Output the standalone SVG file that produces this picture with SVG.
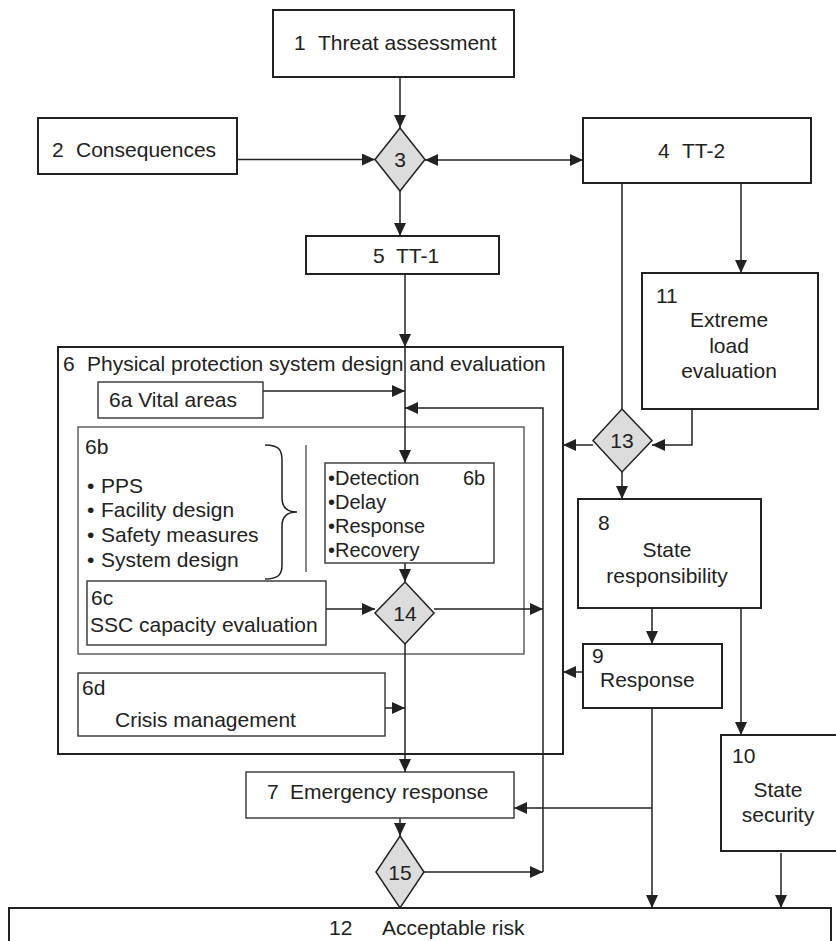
<svg xmlns="http://www.w3.org/2000/svg" width="836" height="941" viewBox="0 0 836 941">
<style>
text{font-family:"Liberation Sans",Arial,sans-serif;font-size:21px;fill:#222}
.sm{font-size:20px}
.box{fill:#fff;stroke:#222;stroke-width:2}
.thin{fill:#fff;stroke:#333;stroke-width:1.4}
.grey{fill:none;stroke:#555;stroke-width:1.4}
.dia{fill:#dcdcdc;stroke:#222;stroke-width:1.5}
.c{fill:none;stroke:#222;stroke-width:1.5}
.mid{text-anchor:middle}
</style>
<defs>
<marker id="a" markerUnits="userSpaceOnUse" markerWidth="14" markerHeight="12" refX="13" refY="6" orient="auto-start-reverse">
<path d="M0,0 L13,6 L0,12 z" fill="#222"/>
</marker>
</defs>
<rect width="836" height="941" fill="#fff"/>

<g id="n6">
<rect class="box" x="58" y="347" width="505" height="407"/>
<text x="63" y="371">6<tspan x="87">Physical protection system design and evaluation</tspan></text>
</g>
<g id="n6b-outer">
<rect class="grey" x="78" y="427" width="446" height="227"/>
<text x="85" y="454">6b</text>
<text x="87" y="493">•<tspan x="101">PPS</tspan></text>
<text x="87" y="517">•<tspan x="101">Facility design</tspan></text>
<text x="87" y="542">•<tspan x="101">Safety measures</tspan></text>
<text x="87" y="567">•<tspan x="101">System design</tspan></text>
<path class="c" d="M265,445 C279,445 282,450 282,460 L282,498 C282,508 287,512 297,512 C287,512 282,516 282,526 L282,565 C282,575 278,579 265,579"/>
<line class="grey" x1="306" y1="445" x2="306" y2="572"/>
</g>

<g id="connectors">
<line class="c" x1="400" y1="77" x2="400" y2="128" marker-end="url(#a)"/>
<line class="c" x1="237" y1="159.5" x2="375" y2="159.5" marker-end="url(#a)"/>
<line class="c" x1="425" y1="160" x2="583" y2="160" marker-start="url(#a)" marker-end="url(#a)"/>
<line class="c" x1="400" y1="191" x2="400" y2="236" marker-end="url(#a)"/>
<line class="c" x1="405" y1="274" x2="405" y2="347" marker-end="url(#a)"/>
<line class="c" x1="405" y1="347" x2="405" y2="463" marker-end="url(#a)"/>
<line class="c" x1="263" y1="391" x2="405" y2="391" marker-end="url(#a)"/>
<line class="c" x1="424" y1="872" x2="543" y2="872" marker-end="url(#a)"/>
<polyline class="c" points="543,872 543,408 405,408" marker-end="url(#a)"/>
<line class="c" x1="434" y1="609" x2="543" y2="609" marker-end="url(#a)"/>
<line class="c" x1="326" y1="609" x2="375" y2="609" marker-end="url(#a)"/>
<line class="c" x1="405" y1="563" x2="405" y2="582" marker-end="url(#a)"/>
<line class="c" x1="405" y1="644" x2="405" y2="772" marker-end="url(#a)"/>
<line class="c" x1="385" y1="708" x2="405" y2="708" marker-end="url(#a)"/>
<line class="c" x1="400" y1="818" x2="400" y2="836" marker-end="url(#a)"/>
<line class="c" x1="622" y1="183" x2="622" y2="409"/>
<line class="c" x1="741" y1="183" x2="741" y2="273" marker-end="url(#a)"/>
<polyline class="c" points="692,409 692,445 652,445" marker-end="url(#a)"/>
<line class="c" x1="593" y1="445" x2="563" y2="445" marker-end="url(#a)"/>
<line class="c" x1="622" y1="472" x2="622" y2="499" marker-end="url(#a)"/>
<line class="c" x1="652" y1="608" x2="652" y2="644" marker-end="url(#a)"/>
<line class="c" x1="741" y1="608" x2="741" y2="735" marker-end="url(#a)"/>
<line class="c" x1="583" y1="672" x2="563" y2="672" marker-end="url(#a)"/>
<line class="c" x1="652" y1="708" x2="652" y2="908" marker-end="url(#a)"/>
<line class="c" x1="652" y1="808" x2="514" y2="808" marker-end="url(#a)"/>
<line class="c" x1="781" y1="853" x2="781" y2="908" marker-end="url(#a)"/>
</g>

<g id="n1">
<rect class="box" x="273" y="10" width="241" height="67"/>
<text x="294" y="50">1<tspan x="318">Threat assessment</tspan></text>
</g>
<g id="n2">
<rect class="box" x="38" y="118" width="199" height="56"/>
<text x="52" y="157">2<tspan x="76">Consequences</tspan></text>
</g>
<g id="n3">
<polygon class="dia" points="400,128 425,159.5 400,191 375,159.5"/>
<text class="mid" x="400" y="167">3</text>
</g>
<g id="n4">
<rect class="box" x="583" y="118" width="228" height="65"/>
<text x="658" y="158">4<tspan x="682">TT-2</tspan></text>
</g>
<g id="n5">
<rect class="box" x="306" y="236" width="193" height="38"/>
<text x="373" y="263">5<tspan x="396">TT-1</tspan></text>
</g>
<g id="n11">
<rect class="box" x="642" y="273" width="176" height="136"/>
<text x="656" y="303">11</text>
<text class="mid" x="729" y="327">Extreme</text>
<text class="mid" x="729" y="353">load</text>
<text class="mid" x="729" y="378">evaluation</text>
</g>
<g id="n6a">
<rect class="thin" x="98" y="382" width="165" height="36"/>
<text x="109" y="407">6a Vital areas</text>
</g>
<g id="n6b">
<rect class="thin" x="325" y="463" width="169" height="100"/>
<text class="sm" x="328" y="485">•Detection</text>
<text class="sm" x="463" y="485">6b</text>
<text class="sm" x="328" y="509">•Delay</text>
<text class="sm" x="328" y="533">•Response</text>
<text class="sm" x="328" y="557">•Recovery</text>
</g>
<g id="n6c">
<rect class="thin" x="87" y="581" width="239" height="64"/>
<text x="91" y="605">6c</text>
<text x="90" y="632">SSC capacity evaluation</text>
</g>
<g id="n14">
<polygon class="dia" points="405,582 434,613 405,644 375,613"/>
<text class="mid" x="405" y="621">14</text>
</g>
<g id="n6d">
<rect class="thin" x="78" y="673" width="307" height="63"/>
<text x="82" y="695">6d</text>
<text x="115" y="727">Crisis management</text>
</g>
<g id="n7">
<rect class="thin" x="246" y="772" width="268" height="46"/>
<text x="267" y="799">7<tspan x="290">Emergency response</tspan></text>
</g>
<g id="n15">
<polygon class="dia" points="400,836 424,872 400,908 376,872"/>
<text class="mid" x="400" y="880">15</text>
</g>
<g id="n13">
<polygon class="dia" points="622,409 652,440.5 622,472 593,440.5"/>
<text class="mid" x="622" y="448">13</text>
</g>
<g id="n8">
<rect class="box" x="578" y="499" width="183" height="109"/>
<text x="598" y="530">8</text>
<text class="mid" x="667" y="557">State</text>
<text class="mid" x="667" y="583">responsibility</text>
</g>
<g id="n9">
<rect class="box" x="583" y="644" width="139" height="64"/>
<text x="592" y="663">9</text>
<text x="600" y="687">Response</text>
</g>
<g id="n10">
<rect class="box" x="721" y="735" width="120" height="116"/>
<text x="732" y="763">10</text>
<text class="mid" x="778" y="797">State</text>
<text class="mid" x="778" y="822">security</text>
</g>
<g id="n12">
<rect class="box" x="9" y="908" width="822" height="45"/>
<text x="329" y="935">12<tspan x="382">Acceptable risk</tspan></text>
</g>
</svg>
